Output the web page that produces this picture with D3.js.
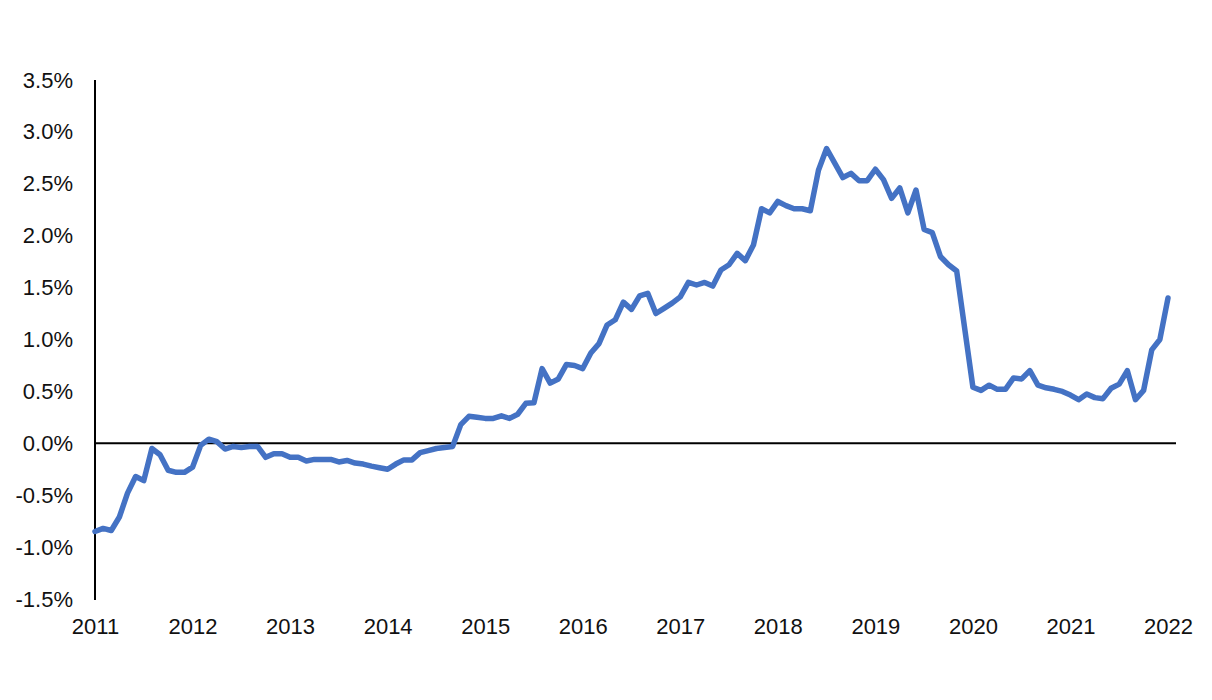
<!DOCTYPE html>
<html>
<head>
<meta charset="utf-8">
<script src="https://cdn.jsdelivr.net/npm/d3@7"></script>
<style>
  html, body { margin: 0; padding: 0; background: #fff; }
  svg { display: block; }
  text { font-family: "Liberation Sans", Arial, sans-serif; }
</style>
</head>
<body>
<svg id="chart" width="1212" height="700"></svg>
<script>
// Monthly values, Jan 2011 .. Jan 2022 (percent)
const values = [
  -0.85, -0.82, -0.84, -0.71, -0.48, -0.32, -0.36, -0.05, -0.11, -0.26, -0.28, -0.28,
  -0.23, -0.02, 0.04, 0.015, -0.055, -0.03, -0.04, -0.03, -0.03, -0.135, -0.10, -0.10,
  -0.135, -0.135, -0.17, -0.155, -0.155, -0.155, -0.18, -0.165, -0.19, -0.20, -0.22, -0.235,
  -0.25, -0.20, -0.16, -0.16, -0.09, -0.07, -0.05, -0.04, -0.03, 0.18, 0.26, 0.25,
  0.24, 0.24, 0.265, 0.24, 0.28, 0.385, 0.39, 0.72, 0.58, 0.62, 0.76, 0.75,
  0.72, 0.87, 0.96, 1.14, 1.19, 1.36, 1.29, 1.42, 1.445, 1.25, 1.30, 1.35,
  1.41, 1.55, 1.525, 1.55, 1.515, 1.67, 1.72, 1.83, 1.76, 1.91, 2.26, 2.22,
  2.33, 2.29, 2.26, 2.26, 2.24, 2.63, 2.84, 2.70, 2.56, 2.60, 2.53, 2.53,
  2.64, 2.54, 2.36, 2.46, 2.22, 2.44, 2.06, 2.03, 1.80, 1.72, 1.66, 1.10,
  0.54, 0.51, 0.56, 0.52, 0.52, 0.63, 0.62, 0.70, 0.56, 0.535, 0.52, 0.50,
  0.465, 0.42, 0.475, 0.44, 0.43, 0.53, 0.57, 0.70, 0.42, 0.51, 0.90, 1.00,
  1.40
];
const years = [2011, 2012, 2013, 2014, 2015, 2016, 2017, 2018, 2019, 2020, 2021, 2022];
const yTicks = [-1.5, -1.0, -0.5, 0.0, 0.5, 1.0, 1.5, 2.0, 2.5, 3.0, 3.5];

const svg = d3.select("#chart");
const mLeft = 95, mRight = 1168, mTop = 80, mBottom = 599;

const x = d3.scaleLinear().domain([0, values.length - 1]).range([mLeft, mRight]);
const y = d3.scaleLinear().domain([-1.5, 3.5]).range([mBottom, mTop]);

// Y axis labels
const yAxis = d3.axisLeft(y).tickValues(yTicks).tickSize(0).tickPadding(22)
  .tickFormat(d => d.toFixed(1) + "%");
const gy = svg.append("g").attr("transform", `translate(${mLeft},0)`).call(yAxis);
gy.select(".domain").remove();
gy.selectAll("text").attr("font-size", 22).attr("fill", "#111")
  .attr("font-family", "'Liberation Sans', Arial, sans-serif");

// X axis labels (yearly, every 12 months)
const xAxis = d3.axisBottom(x).tickValues(years.map((d, i) => i * 12)).tickSize(0).tickPadding(19)
  .tickFormat((d, i) => years[i]);
const gx = svg.append("g").attr("transform", `translate(0,${mBottom})`).call(xAxis);
gx.select(".domain").remove();
gx.selectAll("text").attr("font-size", 22).attr("fill", "#111")
  .attr("font-family", "'Liberation Sans', Arial, sans-serif");

// Vertical axis line
svg.append("line")
  .attr("x1", mLeft).attr("x2", mLeft)
  .attr("y1", y(3.5)).attr("y2", y(-1.5) + 1)
  .attr("stroke", "#000").attr("stroke-width", 2);

// Zero line
svg.append("line")
  .attr("x1", mLeft).attr("x2", 1176)
  .attr("y1", y(0)).attr("y2", y(0))
  .attr("stroke", "#000").attr("stroke-width", 2);

// Series line
const line = d3.line().x((d, i) => x(i)).y(d => y(d));
svg.append("path")
  .datum(values)
  .attr("d", line)
  .attr("fill", "none")
  .attr("stroke", "#4472C4")
  .attr("stroke-width", 5.5)
  .attr("stroke-linejoin", "round")
  .attr("stroke-linecap", "round");
</script>
</body>
</html>
